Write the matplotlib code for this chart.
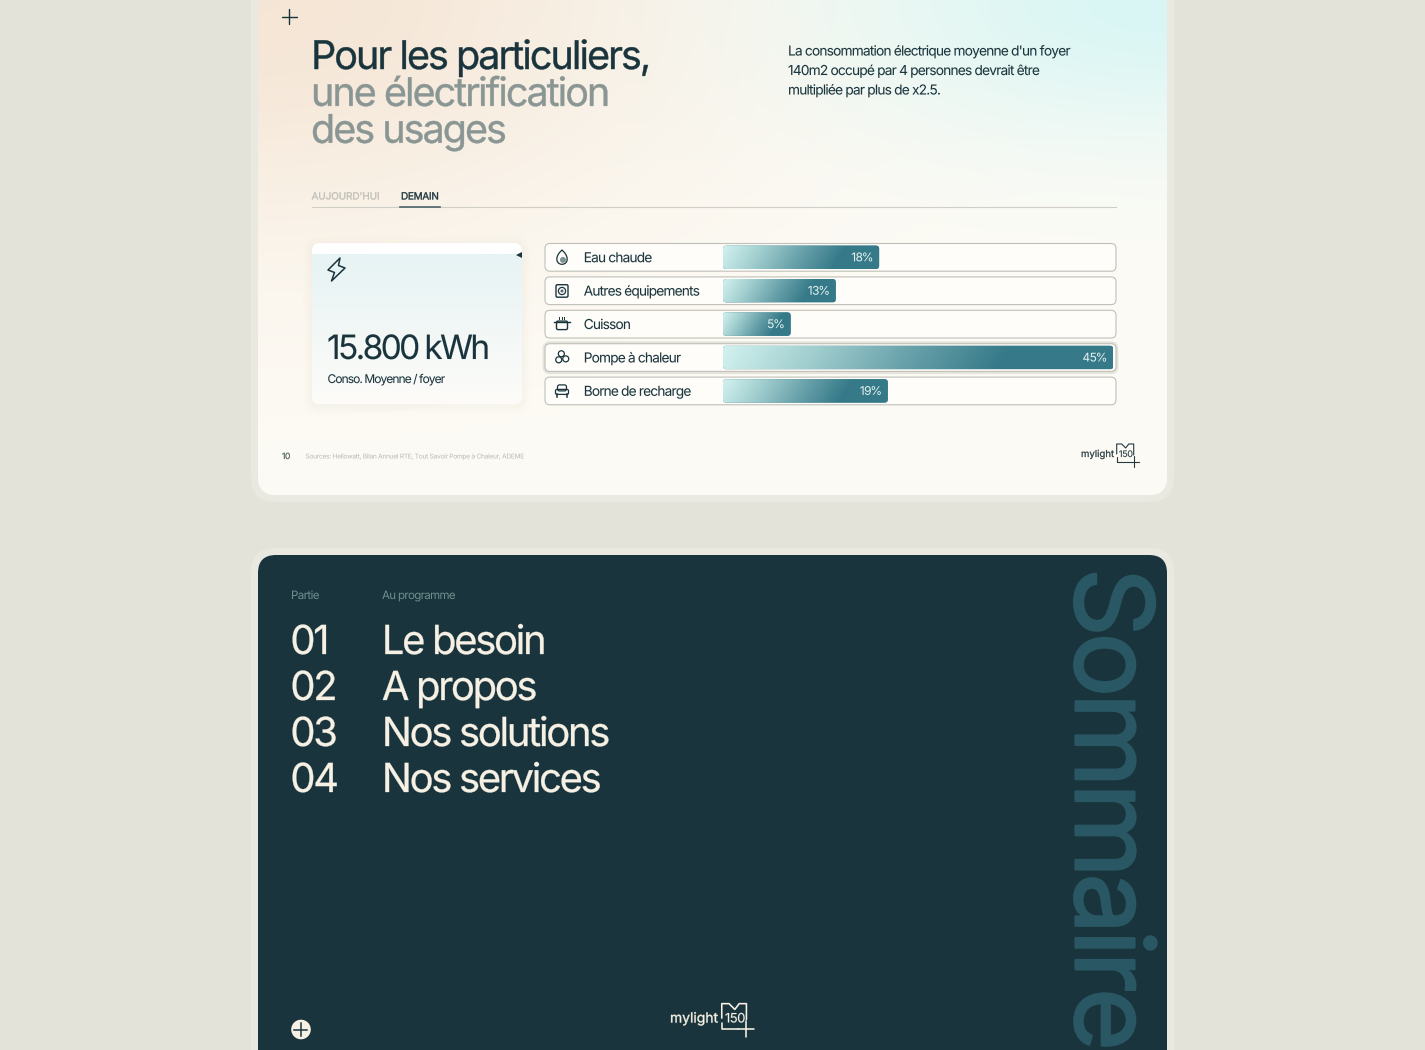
import numpy as np
import matplotlib
matplotlib.use("Agg")
import matplotlib.pyplot as plt
from matplotlib.colors import LinearSegmentedColormap, to_rgb
from matplotlib.patches import FancyBboxPatch, Circle, Polygon
from matplotlib.path import Path
from matplotlib.patheffects import AbstractPathEffect

plt.rcParams['font.family'] = ['Inter', 'DejaVu Sans']

# donnees
categories = ["Eau chaude", "Autres équipements", "Cuisson", "Pompe à chaleur", "Borne de recharge"]
bar_lengths = [18, 13, 7.8, 45, 19]   # longueur (le 5% est dessine plus long)
bar_labels = ["18%", "13%", "5%", "45%", "19%"]
title_lines = ["Pour les particuliers,", "une électrification", "des usages"]
body_lines = ["La consommation électrique moyenne d'un foyer",
              "140m2 occupé par 4 personnes devrait être",
              "multipliée par plus de x2.5."]
tabs = ["AUJOURD'HUI", "DEMAIN"]
programme_num = ["01", "02", "03", "04"]
programme_txt = ["Le besoin", "A propos", "Nos solutions", "Nos services"]

DARK = "#19343c"
CREAM = "#f6f1e4"
GREY = "#8a9694"
LINE = "#c0c0b9"
TEAL = "#367a89"
PX = 0.72  # px -> pt a 100 dpi


class Tracked(AbstractPathEffect):
    # resserre les lettres (letter-spacing) : pas d'option pour ca dans matplotlib
    def __init__(self, track=-0.058, bold=0.0, right=False):
        super().__init__()
        self.track = track
        self.bold = bold
        self.right = right

    def draw_path(self, renderer, gc, tpath, affine, rgbFace=None):
        v = tpath.vertices.copy()
        c = tpath.codes
        starts = np.flatnonzero(c == Path.MOVETO).tolist() + [len(v)]
        k = 0
        edge = None
        for a, b in zip(starts[:-1], starts[1:]):
            keep = c[a:b] != Path.CLOSEPOLY
            xs = v[a:b, 0][keep]
            lo, hi = xs.min(), xs.max()
            if edge is not None and lo >= edge:
                k += 2 if lo - edge > 22 else 1
                edge = hi
            else:
                edge = hi if edge is None else max(edge, hi)
            v[a:b, 0] += k * self.track * 100
        if self.right:
            v[:, 0] -= k * self.track * 100
        gc0 = renderer.new_gc()
        gc0.copy_properties(gc)
        gc0.set_linewidth(self.bold)
        if self.bold > 0:
            gc0.set_foreground(rgbFace)
        renderer.draw_path(gc0, Path(v, c), affine, rgbFace)
        gc0.restore()


fig = plt.figure(figsize=(14.25, 10.5), dpi=100, facecolor="#e3e3da")
ax = fig.add_axes([0, 0, 1, 1])
ax.set_xlim(0, 1425)
ax.set_ylim(1050, 0)
ax.axis("off")


def rbox(x0, y0, x1, y1, r, a=ax, **kw):
    p = FancyBboxPatch((x0, y0), x1 - x0, y1 - y0, boxstyle=f"round,pad=0,rounding_size={r}", **kw)
    a.add_patch(p)
    return p


def txt(x, y, s, px, color=DARK, track=-0.058, bold=0.0, **kw):
    return ax.text(x, y, s, fontsize=px * PX, color=color, va="baseline", zorder=6,
                   path_effects=[Tracked(track, bold * PX)], **kw)


def stroke(xs, ys, color=DARK, lw=1.0):
    ax.plot(xs, ys, color=color, lw=lw, solid_capstyle="round", solid_joinstyle="round", zorder=6)


# cartes
rbox(251, -30, 1174, 502, 24, fc="#e9e9e1", ec="none")
rbox(251, 548, 1174, 1090, 24, fc="#e9e9e1", ec="none")
card = rbox(258, -30, 1167, 495, 18, fc="#fdfbf5", ec="none")
rbox(258, 555, 1167, 1090, 18, fc=DARK, ec="none")

# degrade de la carte du haut
xx, yy = np.meshgrid(np.linspace(258, 1167, 300), np.linspace(0, 495, 200))
base = np.array(to_rgb("#fdfbf5"))
peach = np.array(to_rgb("#f5e6d6"))
cyan = np.array(to_rgb("#d9f6f4"))
w_p = np.exp(-(((xx - 258) / 430) ** 2 + (yy / 240) ** 2))[..., None]
w_c = np.exp(-(((xx - 1167) / 330) ** 2 + (yy / 140) ** 2))[..., None]
img = base * (1 - w_p) + peach * w_p
img = img * (1 - w_c) + cyan * w_c
im = ax.imshow(img, extent=(258, 1167, 495, 0), aspect="auto", zorder=1)
im.set_clip_path(card)
ax.set_xlim(0, 1425)
ax.set_ylim(1050, 0)

# plus haut gauche
stroke([282, 297], [16.5, 16.5], lw=1.0)
stroke([289.5, 289.5], [9, 24], lw=1.0)

# titre + texte
for i, line in enumerate(title_lines):
    txt(311, 69 + 36.9 * i, line, 39.5, color=DARK if i == 0 else GREY, track=-0.05, bold=0.4)
for i, line in enumerate(body_lines):
    txt(788, 55.5 + 19.5 * i, line, 13.7, bold=0.05)

# onglets
txt(311.5, 199.5, tabs[0], 10, color="#bdbdb6", track=-0.012, bold=0.25)
txt(401, 199.5, tabs[1], 10, color=DARK, track=-0.03, bold=0.35)
ax.plot([312, 1116], [207, 207], color="#cfcfc8", lw=0.8, zorder=5)
ax.plot([400, 440], [207, 207], color="#4d6468", lw=1.2, zorder=6)

# carte kWh
for k, a in zip([9, 6, 3], [0.012, 0.02, 0.03]):
    rbox(312 - k, 243 - k + 2, 522 + k, 404 + k + 2, 8 + k, fc="#b9a98f", ec="none", alpha=a, zorder=4)
kwh = rbox(312, 243, 522, 404, 8, fc="white", ec="none", zorder=5)
grad = np.linspace(0, 1, 100)[:, None, None] * (np.array(to_rgb("#fdfcf9")) - np.array(to_rgb("#e7f3f4"))) + np.array(to_rgb("#e7f3f4"))
im2 = ax.imshow(grad, extent=(312, 522, 404, 254), aspect="auto", zorder=5)
im2.set_clip_path(kwh)
ax.set_xlim(0, 1425)
ax.set_ylim(1050, 0)
ax.add_patch(Polygon([[516, 255], [522, 252], [522, 258]], fc=DARK, ec="none", zorder=6))
ax.add_patch(Polygon([[340, 258], [328, 270], [334.5, 272.5], [331.5, 281], [345, 268], [338.5, 265.5]],
                     fc="none", ec=DARK, lw=1.1, joinstyle="round", zorder=6))
txt(327, 359, "15.800 kWh", 33.5, track=-0.08, bold=0.1)
txt(327.5, 383, "Conso. Moyenne / foyer", 12, track=-0.078, bold=0.05)

# lignes du tableau
row_top = 243.5
row_pitch = 33.4
for i, cat in enumerate(categories):
    y0 = row_top + i * row_pitch
    if i == 3:
        rbox(544, y0 - 1, 1117, y0 + 29, 6, fc="none", ec="#e4e4dc", lw=2, zorder=4)
    rbox(545, y0, 1116, y0 + 27.7, 5, fc="#fefdf9", ec=LINE, lw=0.8, zorder=5)
    txt(583.7, y0 + 18.7, cat, 13.7, track=-0.06, bold=0.05)

# icones
cy = [row_top + 13.8 + i * row_pitch for i in range(5)]
t = np.linspace(0, 2 * np.pi, 80)
# goutte
ax.plot(562 + 6.3 * np.sin(t) * np.abs(np.sin(t / 2)) ** 0.7, cy[0] - 7 + 14 * np.sin(t / 2) ** 2, color=DARK, lw=0.9, zorder=6)
ax.add_patch(Circle((563, cy[0] + 2.6), 3, fc="#7f9293", ec="none", zorder=6))
# lave linge
rbox(556, cy[1] - 6, 568, cy[1] + 6.5, 1.5, fc="none", ec=DARK, lw=1.0, zorder=6)
ax.add_patch(Circle((562, cy[1] + 0.3), 3.6, fc="none", ec=DARK, lw=0.9, zorder=6))
ax.add_patch(Circle((562, cy[1] + 0.3), 1.5, fc="#526a6e", ec="none", zorder=6))
# casserole
rbox(556.5, cy[2] - 3, 567.5, cy[2] + 5.5, 1.5, fc="none", ec=DARK, lw=1.0, zorder=6)
ax.plot([554, 570], [cy[2] - 2.5, cy[2] - 2.5], color=DARK, lw=1.0, zorder=6)
for dx in [559.5, 562, 564.5]:
    ax.plot([dx, dx], [cy[2] - 7, cy[2] - 4.7], color=DARK, lw=0.7, zorder=6)
# ventilateur
for ang, dr in zip([100, 215, 340], [3.8, 4.0, 4.0]):
    a_ = np.deg2rad(ang)
    ax.add_patch(Circle((562 + dr * np.cos(a_), cy[3] - dr * np.sin(a_)), 3.0, fc="none", ec=DARK, lw=0.9, zorder=6))
# voiture
rbox(555.5, cy[4] - 1.5, 568.5, cy[4] + 3.5, 1.5, fc="none", ec=DARK, lw=0.9, zorder=6)
rbox(557.5, cy[4] - 6, 566.5, cy[4] + 0, 2, fc="none", ec=DARK, lw=0.9, zorder=6)
for dx in [557, 567]:
    ax.plot([dx, dx], [cy[4] + 3.5, cy[4] + 6], color=DARK, lw=1.1, zorder=6)

# barres : axe propre, 0-45 %
H = 1050.0
ax_top = row_top + 13.8 - row_pitch / 2
ax_h = row_pitch * len(categories)
bx = fig.add_axes([723 / 1425, 1 - (ax_top + ax_h) / H, 390.3 / 1425, ax_h / H])
bx.set_xlim(0, 45)
bx.set_ylim(len(categories) - 0.5, -0.5)
bx.axis("off")
bx.patch.set_alpha(0)
cmap = LinearSegmentedColormap.from_list("teal", ["#d2f2ef", "#a0cdce", "#68a1aa", TEAL])
unit_x = 390.3 / 45
unit_y = row_pitch
bar_h = 23.4 / row_pitch
for i, v in enumerate(bar_lengths):
    p = FancyBboxPatch((0, i - bar_h / 2), v, bar_h, boxstyle="round,pad=0,rounding_size=0.38",
                       mutation_aspect=unit_x / unit_y, fc=TEAL, ec="none", zorder=2)
    bx.add_patch(p)
    gx, gy = np.meshgrid(np.linspace(0, 1, 300), np.linspace(0, 1, 30))
    # degrade legerement diagonal
    g = np.clip((gx * v * unit_x + gy * 14) / (v * unit_x * 0.7 + 14), 0, 1)
    im3 = bx.imshow(g, extent=(0, v, i + bar_h / 2, i - bar_h / 2), aspect="auto", cmap=cmap, vmin=0, vmax=1, zorder=3)
    im3.set_clip_path(p)
    bx.text(v - 5.8 / unit_x, i + 0.03, bar_labels[i], color="#e6f2f0", fontsize=12 * PX, ha="right", va="center",
            zorder=4, path_effects=[Tracked(-0.05, right=True)])
bx.set_xlim(0, 45)
bx.set_ylim(len(categories) - 0.5, -0.5)

# pied de page
txt(282, 459, "10", 8.5, color="#4d5c5e", bold=0.2)
txt(305.5, 458.5, "Sources: Hellowatt, Bilan Annuel RTE, Tout Savoir Pompe à Chaleur, ADEME", 6.6, color="#b9b9b2", track=-0.04)


def logo(x, y, s, color):
    # x,y : debut du mot, s : echelle
    txt(x, y, "mylight", 9.6 * s, color=color, track=0.0, bold=0.25 * s)
    kx = x + 35.7 * s
    by = y + 1 * s
    stroke([kx, kx, kx + 5 * s, kx + 9 * s, kx + 12 * s, kx + 17 * s, kx + 17 * s],
           [by - 4 * s, by - 14 * s, by - 14 * s, by - 10 * s, by - 14 * s, by - 14 * s, by - 3 * s], color, 0.8 * s)
    stroke([kx, kx, kx + 11 * s], [by - 1 * s, by + 3.7 * s, by + 3.7 * s], color, 0.8 * s)
    txt(kx + 2.2 * s, y, "150", 9 * s, color=color, track=-0.04, bold=0.1 * s)
    stroke([kx + 11.5 * s, kx + 22 * s], [by + 3.7 * s, by + 3.7 * s], color, 0.8 * s)
    stroke([kx + 17 * s, kx + 17 * s], [by - 2 * s, by + 9 * s], color, 0.8 * s)


logo(1081, 457, 1.0, "#24383e")
logo(670, 1022.5, 1.45, CREAM)

# sommaire
txt(291, 599, "Partie", 11.5, color="#70908f", track=-0.05)
txt(382, 599, "Au programme", 11.5, color="#70908f", track=-0.058)
for i in range(4):
    yb = 654 + 46 * i
    txt(290.3, yb, programme_num[i], 40, color=CREAM, bold=0.3)
    txt(381.8, yb, programme_txt[i], 40, color=CREAM, bold=0.3)

ax.text(1104, 567.5, "Sommaire", fontsize=108 * PX, color="#295763", rotation=-90,
        rotation_mode="anchor", ha="left", va="center", zorder=6, clip_on=True,
        path_effects=[Tracked(-0.04, 2.2 * PX)])

# plus rond
ax.add_patch(Circle((301, 1029.5), 9.8, fc=CREAM, ec="none", zorder=6))
ax.plot([294.5, 307.5], [1029.5, 1029.5], color=DARK, lw=1.1, zorder=7)
ax.plot([301, 301], [1023, 1036], color=DARK, lw=1.1, zorder=7)

fig.savefig("out.png", dpi=100, facecolor=fig.get_facecolor())
